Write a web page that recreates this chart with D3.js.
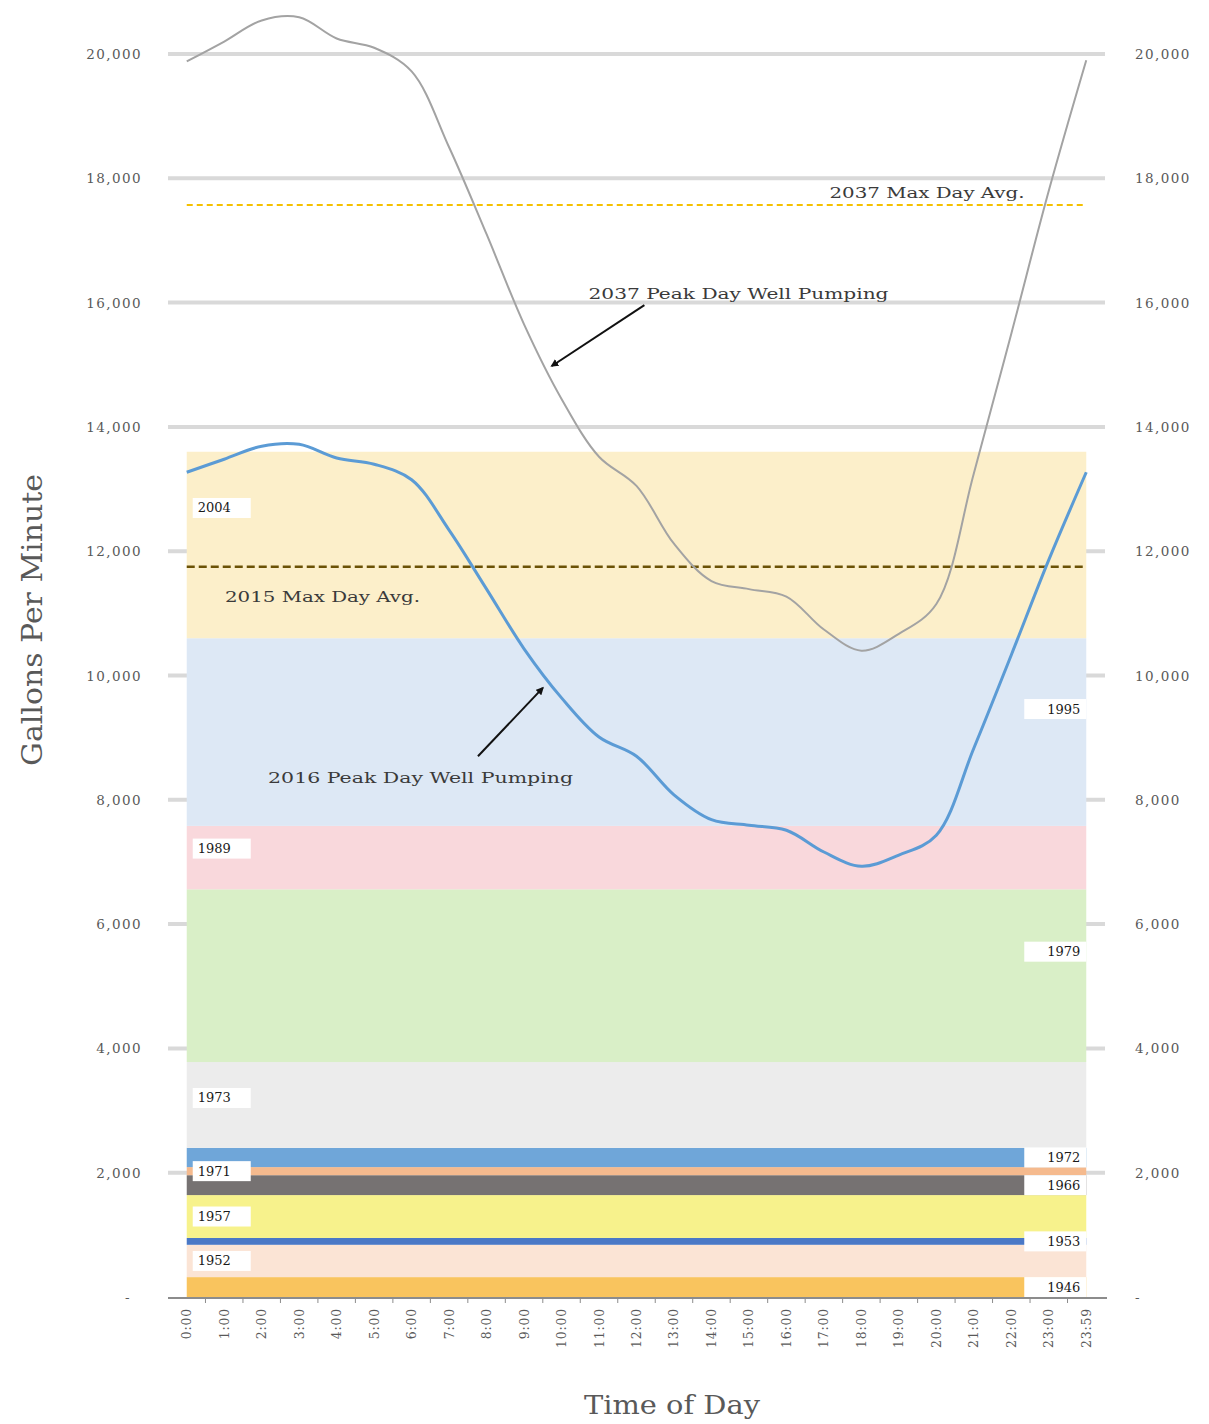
<!DOCTYPE html>
<html><head><meta charset="utf-8">
<script src="https://cdn.jsdelivr.net/npm/d3@7"></script>
<style>body{margin:0;background:#fff}svg{display:block}</style>
</head><body>
<svg id="c" width="1209" height="1424"></svg>
<script>
const hours = ["0:00","1:00","2:00","3:00","4:00","5:00","6:00","7:00","8:00","9:00","10:00","11:00","12:00","13:00","14:00","15:00","16:00","17:00","18:00","19:00","20:00","21:00","22:00","23:00","23:59"];
const flow2016 = [13270,13480,13690,13720,13500,13400,13150,12340,11390,10430,9640,9010,8700,8080,7680,7590,7510,7160,6930,7110,7430,8830,10330,11860,13270];
const flow2037 = [19880,20200,20540,20590,20250,20100,19720,18500,17100,15650,14450,13520,13050,12120,11520,11390,11270,10740,10400,10670,11150,13250,15500,17800,19900];
const bandYears = ["1946","1952","1953","1957","1966","1971","1972","1973","1979","1989","1995","2004"];
const bandTops  = [320,840,950,1640,1960,2090,2400,3780,6560,7580,10600,13600];
const maxDay2015 = 11750;
const maxDay2037 = 17570;
const yTicks = [0,2000,4000,6000,8000,10000,12000,14000,16000,18000,20000];

// styles / layout (not data)
const bandColors = ["#f9c45e","#fbe4d5","#4a78c6","#f7f28c","#767272","#f5ba8e","#6fa6d9","#ececec","#d9efc7","#f9d8dc","#dde8f5","#fcefca"];
const labelSide  = ["R","L","R","L","R","L","R","L","R","L","R","L"];
const labelShift = [0,0,0,0,0,0,0,-7,-24,-9,-23,-37];

const svg = d3.select("#c");
const serif = "'DejaVu Serif', 'Liberation Serif', serif";
const x = d3.scaleBand().domain(hours).range([168,1105]);
const y = d3.scaleLinear().domain([0,20000]).range([1297,54]);
const xc = h => x(h) + x.bandwidth()/2;
const xi = i => xc(hours[0]) + i*x.step();
const x0 = xc(hours[0]), x1 = xc(hours[hours.length-1]);

// gridlines
svg.append("g").selectAll("line").data(yTicks.filter(d=>d>0)).join("line")
  .attr("x1",168).attr("x2",1105).attr("y1",d=>y(d)).attr("y2",d=>y(d))
  .attr("stroke","#d9d9d9").attr("stroke-width",4);

// bands
bandYears.forEach((yr,i)=>{
  const lo = i===0?0:bandTops[i-1];
  svg.append("rect").attr("x",x0).attr("width",x1-x0)
    .attr("y",y(bandTops[i])).attr("height",y(lo)-y(bandTops[i]))
    .attr("fill",bandColors[i]);
});

// band labels
bandYears.forEach((yr,i)=>{
  const lo = i===0?0:bandTops[i-1];
  const cy = (y(lo)+y(bandTops[i]))/2 + labelShift[i];
  const left = labelSide[i]==="L";
  const bx = left ? x0+6 : x1-62;
  svg.append("rect").attr("x",bx).attr("y",cy-10).attr("width",left?58:62).attr("height",20).attr("fill","#fff");
  svg.append("text").attr("x",left?bx+5:x1-6).attr("y",cy+4.5)
    .attr("text-anchor",left?"start":"end").attr("font-family",serif).attr("font-size",13)
    .attr("fill","#1a1a1a").text(yr);
});

// max day avg lines
svg.append("line").attr("x1",x0).attr("x2",x1).attr("y1",y(maxDay2037)).attr("y2",y(maxDay2037))
  .attr("stroke","#f5c000").attr("stroke-width",2).attr("stroke-dasharray","6,4");
svg.append("line").attr("x1",x0).attr("x2",x1).attr("y1",y(maxDay2015)).attr("y2",y(maxDay2015))
  .attr("stroke","#6b5206").attr("stroke-width",2.5).attr("stroke-dasharray","8,4");

// lines
const line = d3.line().x((d,i)=>xc(hours[i])).y(d=>y(d)).curve(d3.curveCatmullRom.alpha(0.5));
svg.append("path").datum(flow2037).attr("d",line).attr("fill","none").attr("stroke","#a3a3a3").attr("stroke-width",2);
svg.append("path").datum(flow2016).attr("d",line).attr("fill","none").attr("stroke","#5b9bd5").attr("stroke-width",3);

// x axis
const xAxis = svg.append("g").attr("transform","translate(0,1298)");
xAxis.append("line").attr("x1",168).attr("x2",1107).attr("stroke","#8c8c8c").attr("stroke-width",2);
xAxis.selectAll("line.t").data(d3.range(1,hours.length)).join("line").attr("class","t")
  .attr("x1",d=>168+d*x.step()).attr("x2",d=>168+d*x.step()).attr("y1",0).attr("y2",5)
  .attr("stroke","#8c8c8c").attr("stroke-width",1);
xAxis.selectAll("text").data(hours).join("text")
  .attr("transform",d=>`translate(${xc(d)+4.5},10) rotate(-90)`)
  .attr("text-anchor","end").attr("font-family",serif).attr("font-size",12.5)
  .attr("letter-spacing",0.8).attr("fill","#595959").text(d=>d);

// y axis labels
const fmt = d => d===0 ? "-" : d3.format(",")(d);
svg.append("g").selectAll("text").data(yTicks).join("text")
  .attr("x",d=>d===0?131:142).attr("y",d=>y(d)+5).attr("text-anchor","end")
  .attr("font-family",serif).attr("font-size",13.5).attr("letter-spacing",1.4).attr("fill","#595959").text(fmt);
svg.append("g").selectAll("text").data(yTicks).join("text")
  .attr("x",1135).attr("y",d=>y(d)+5).attr("text-anchor","start")
  .attr("font-family",serif).attr("font-size",13.5).attr("letter-spacing",1.4).attr("fill","#595959").text(fmt);

// axis titles
svg.append("text").attr("transform",`translate(42,620) rotate(-90)`).attr("text-anchor","middle")
  .attr("font-family",serif).attr("font-size",27).attr("fill","#595959")
  .attr("textLength",292).attr("lengthAdjust","spacingAndGlyphs").text("Gallons Per Minute");
svg.append("text").attr("x",672).attr("y",1414).attr("text-anchor","middle")
  .attr("font-family",serif).attr("font-size",26).attr("fill","#595959")
  .attr("textLength",176).attr("lengthAdjust","spacingAndGlyphs").text("Time of Day");

// annotations
const defs = svg.append("defs");
defs.append("marker").attr("id","ah").attr("viewBox","0 0 10 10").attr("refX",8).attr("refY",5)
  .attr("markerWidth",4).attr("markerHeight",4).attr("orient","auto")
  .append("path").attr("d","M0,0L10,5L0,10z").attr("fill","#111");
function note(txt, i, v, w){
  svg.append("text").attr("x",xi(i)).attr("y",y(v)).attr("font-family",serif).attr("font-size",15)
    .attr("fill","#3a3a3a").attr("textLength",w).attr("lengthAdjust","spacingAndGlyphs").text(txt);
}
function arrow(i0,v0,i1,v1){
  svg.append("line").attr("x1",xi(i0)).attr("y1",y(v0)).attr("x2",xi(i1)).attr("y2",y(v1))
    .attr("stroke","#111").attr("stroke-width",2).attr("marker-end","url(#ah)");
}
note("2037 Max Day Avg.", 17.15, 17680, 195);
note("2037 Peak Day Well Pumping", 10.72, 16050, 300);
note("2015 Max Day Avg.", 1.02, 11180, 195);
note("2016 Peak Day Well Pumping", 2.17, 8270, 305);
arrow(12.21, 15960, 9.74, 14980);
arrow(7.77, 8700, 9.5, 9800);
</script>
</body></html>
